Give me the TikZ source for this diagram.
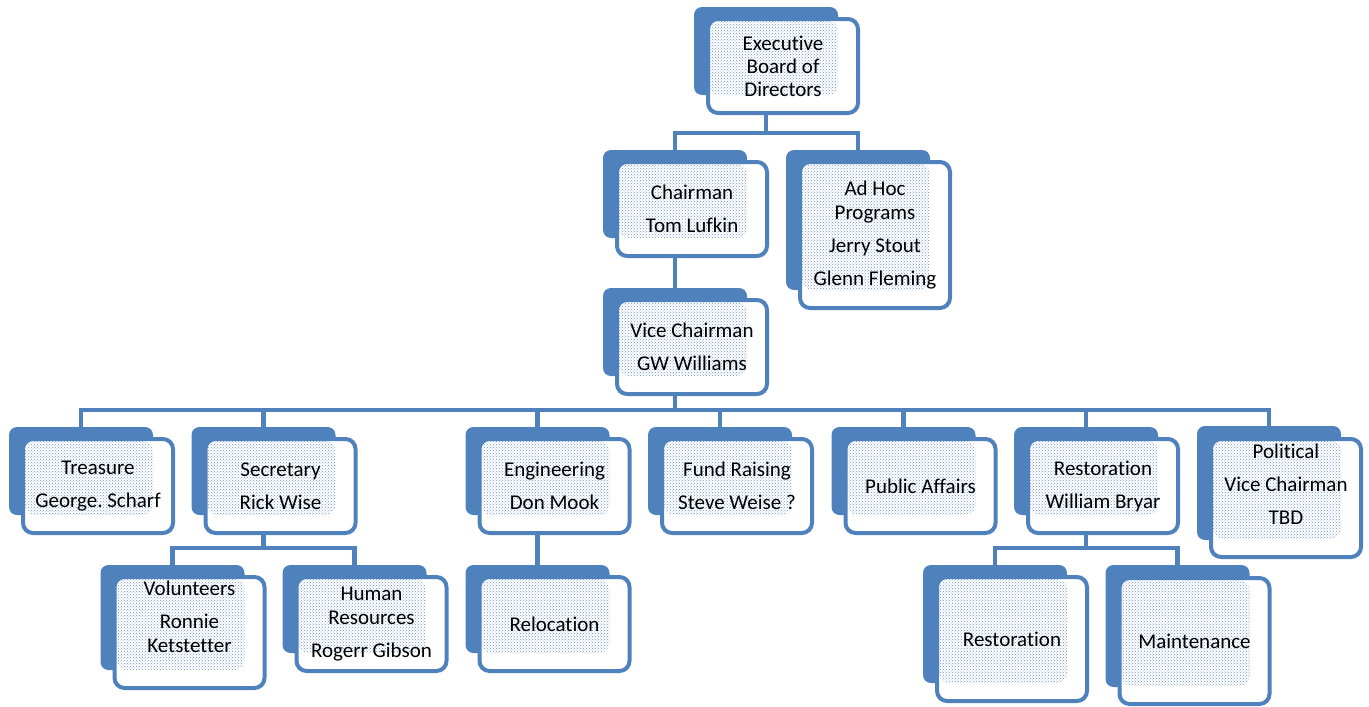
\documentclass[tikz,border=0pt]{standalone}
\usepackage{fontspec}
\setmainfont{Carlito}[Ligatures=NoCommon]
\usetikzlibrary{positioning,backgrounds,patterns}

\definecolor{boxblue}{RGB}{79,129,189}
\definecolor{dotblue}{RGB}{115,148,200}

\tikzset{
  shadowbox/.style={fill=boxblue, rounded corners=8pt, minimum width=144pt,
    minimum height=#1, inner sep=0pt, outer sep=0pt},
  shadowbox/.default=88pt,
  unitbox/.style={draw=boxblue, line width=4pt, fill=white, rounded corners=10pt,
    minimum width=150pt, minimum height=#1, inner sep=2pt, align=center,
    font=\fontsize{21}{24}\selectfont,
    path picture={\fill[pattern=crosshatch dots, pattern color=dotblue]
      ([shift={(2,2)}]path picture bounding box.north west) rectangle
      ([shift={(-20,-18)}]path picture bounding box.south east);}},
  unitbox/.default=94pt,
  link/.style={draw=boxblue, line width=4.5pt},
}

\begin{document}
\frenchspacing
\begin{tikzpicture}[x=1pt,y=-1pt]
\useasboundingbox (0,0) rectangle (1369,707);

% board and its two branches
\node[shadowbox] (exec-s) at (766,51) {};
\node[unitbox] (exec) at ([shift={(17,15)}]exec-s.center) {Executive\\[-1pt]Board of\\[-1pt]Directors};
\node[shadowbox] (chair-s) at (675,194) {};
\node[unitbox] (chair) at ([shift={(17,15)}]chair-s.center) {Chairman\\[9pt]Tom Lufkin};
\node[shadowbox=140pt] (adhoc-s) at (858,220) {};
\node[unitbox=146pt] (adhoc) at ([shift={(17,15)}]adhoc-s.center) {Ad Hoc\\Programs\\[9pt]Jerry Stout\\[9pt]Glenn Fleming};
\node[shadowbox] (vice-s) at (675,332) {};
\node[unitbox] (vice) at ([shift={(17,15)}]vice-s.center) {Vice Chairman\\[9pt]GW Williams};

% committees
\node[shadowbox] (treas-s) at (81,471) {};
\node[unitbox] (treas) at ([shift={(17,15)}]treas-s.center) {Treasure\\[9pt]George. Scharf};
\node[shadowbox] (secr-s) at (263.5,471) {};
\node[unitbox] (secr) at ([shift={(17,15)}]secr-s.center) {Secretary\\[9pt]Rick Wise};
\node[shadowbox] (eng-s) at (537.5,471) {};
\node[unitbox] (eng) at ([shift={(17,15)}]eng-s.center) {Engineering\\[9pt]Don Mook};
\node[shadowbox] (fund-s) at (720,471) {};
\node[unitbox] (fund) at ([shift={(17,15)}]fund-s.center) {Fund Raising\\[9pt]Steve Weise ?};
\node[shadowbox] (pub-s) at (903.5,471) {};
\node[unitbox] (pub) at ([shift={(17,15)}]pub-s.center) {Public Affairs};
\node[shadowbox] (rest-s) at (1086,471) {};
\node[unitbox] (rest) at ([shift={(17,15)}]rest-s.center) {Restoration\\[9pt]William Bryar};
\node[shadowbox=114pt] (pol-s) at (1269,483) {};
\node[unitbox=118pt, text depth=28pt] (pol) at ([shift={(17,15)}]pol-s.center) {Political\\[9pt]Vice Chairman\\[9pt]TBD};

% lower level
\node[shadowbox=105pt] (vol-s) at (172.5,617.5) {};
\node[unitbox=111pt, text depth=32pt] (vol) at ([shift={(17,15)}]vol-s.center) {Volunteers\\[9pt]Ronnie\\Ketstetter};
\node[shadowbox] (hr-s) at (354.5,609) {};
\node[unitbox] (hr) at ([shift={(17,15)}]hr-s.center) {Human\\Resources\\[9pt]Rogerr Gibson};
\node[shadowbox] (reloc-s) at (537.5,609) {};
\node[unitbox] (reloc) at ([shift={(17,15)}]reloc-s.center) {Relocation};
\node[shadowbox=118pt] (rest2-s) at (995,624) {};
\node[unitbox=124pt] (rest2) at ([shift={(17,15)}]rest2-s.center) {Restoration};
\node[shadowbox=122pt] (maint-s) at (1177.5,626) {};
\node[unitbox=126pt] (maint) at ([shift={(17,15)}]maint-s.center) {Maintenance};

% connectors
\coordinate (bus1) at (0,133);
\coordinate (bus2) at (0,410);
\coordinate (bus3) at (0,548);
\begin{scope}[on background layer]
\draw[link] (exec-s.center) |- (bus1 -| chair-s) -- (chair-s.center);
\draw[link] (exec-s.center) |- (bus1 -| adhoc-s) -- (adhoc-s.center);
\draw[link] (chair-s.center) -- (vice-s.center);
\foreach \n in {treas,secr,eng,fund,pub,rest,pol}
  \draw[link] (vice-s.center) |- (bus2 -| \n-s) -- (\n-s.center);
\draw[link] (secr-s.center) |- (bus3 -| vol-s) -- (vol-s.center);
\draw[link] (secr-s.center) |- (bus3 -| hr-s) -- (hr-s.center);
\draw[link] (eng-s.center) -- (reloc-s.center);
\draw[link] (rest-s.center) |- (bus3 -| rest2-s) -- (rest2-s.center);
\draw[link] (rest-s.center) |- (bus3 -| maint-s) -- (maint-s.center);
\end{scope}
\end{tikzpicture}
\end{document}
